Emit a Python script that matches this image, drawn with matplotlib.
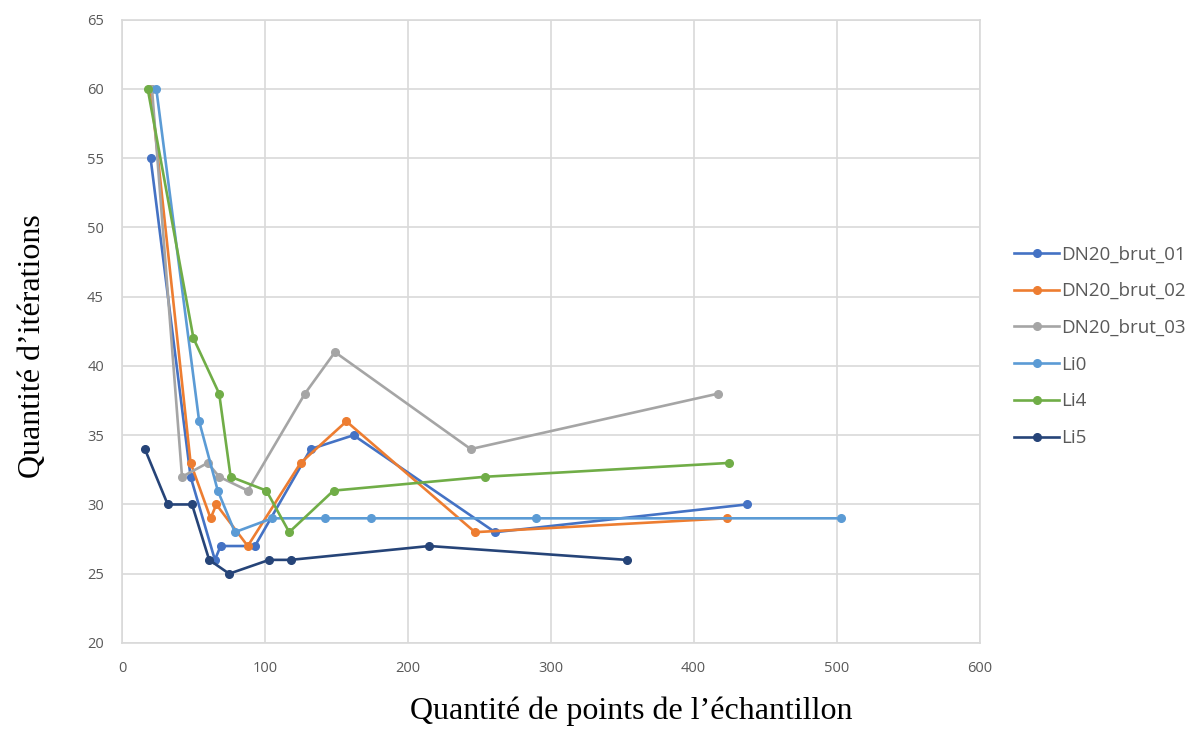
import matplotlib.pyplot as plt

# data
series_names = ["DN20_brut_01", "DN20_brut_02", "DN20_brut_03", "Li0", "Li4", "Li5"]

x_brut_01 = [20, 48, 65, 69, 93, 132, 162, 261, 437]
y_brut_01 = [55, 32, 26, 27, 27, 34, 35, 28, 30]

x_brut_02 = [20, 48, 62, 66, 88, 125, 157, 247, 423]
y_brut_02 = [60, 33, 29, 30, 27, 33, 36, 28, 29]

x_brut_03 = [21, 42, 60, 68, 88, 128, 149, 244, 417]
y_brut_03 = [60, 32, 33, 32, 31, 38, 41, 34, 38]

x_li0 = [24, 54, 67, 79, 105, 142, 174, 290, 503]
y_li0 = [60, 36, 31, 28, 29, 29, 29, 29, 29]

x_li4 = [18, 50, 68, 76, 101, 117, 148, 254, 425]
y_li4 = [60, 42, 38, 32, 31, 28, 31, 32, 33]

x_li5 = [16, 32, 49, 61, 75, 103, 118, 215, 353]
y_li5 = [34, 30, 30, 26, 25, 26, 26, 27, 26]

colours = ["#4472C4", "#ED7D31", "#A5A5A5", "#5B9BD5", "#70AD47", "#264478"]

xs = [x_brut_01, x_brut_02, x_brut_03, x_li0, x_li4, x_li5]
ys = [y_brut_01, y_brut_02, y_brut_03, y_li0, y_li4, y_li5]

fig = plt.figure(figsize=(11.96, 7.29), dpi=100)
ax = fig.add_axes([0.102, 0.118, 0.717, 0.855])

for x, y, name, c in zip(xs, ys, series_names, colours):
    ax.plot(x, y, color=c, linewidth=1.9, marker="o", markersize=5.5, label=name)

ax.set_xlim(0, 600)
ax.set_ylim(20, 65)
ax.set_xticks(range(0, 601, 100))
ax.set_yticks(range(20, 66, 5))
ax.grid(True, color="#D9D9D9", linewidth=1.2)
ax.set_axisbelow(True)
for s in ax.spines.values():
    s.set_color("#D9D9D9")
    s.set_linewidth(1.2)
ax.tick_params(length=0, labelsize=10.5, labelcolor="#595959", pad=13)
for lab in ax.get_xticklabels() + ax.get_yticklabels():
    lab.set_family("Open Sans")

ax.set_xlabel("Quantité de points de l’échantillon", family="Liberation Serif",
              fontsize=23)
ax.set_ylabel("Quantité d’itérations", family="Liberation Serif", fontsize=23)
# labels sit off-centre in the original
ax.xaxis.set_label_coords(0.594, -0.086)
ax.yaxis.set_label_coords(-0.087, 0.477)

leg = ax.legend(loc="center left", bbox_to_anchor=(1.021, 0.476), frameon=False,
                prop={"family": "Open Sans", "size": 13.5}, labelspacing=1.0,
                handlelength=2.4, handletextpad=0.1)
for t in leg.get_texts():
    t.set_color("#595959")

fig.savefig("out.png", dpi=100)
